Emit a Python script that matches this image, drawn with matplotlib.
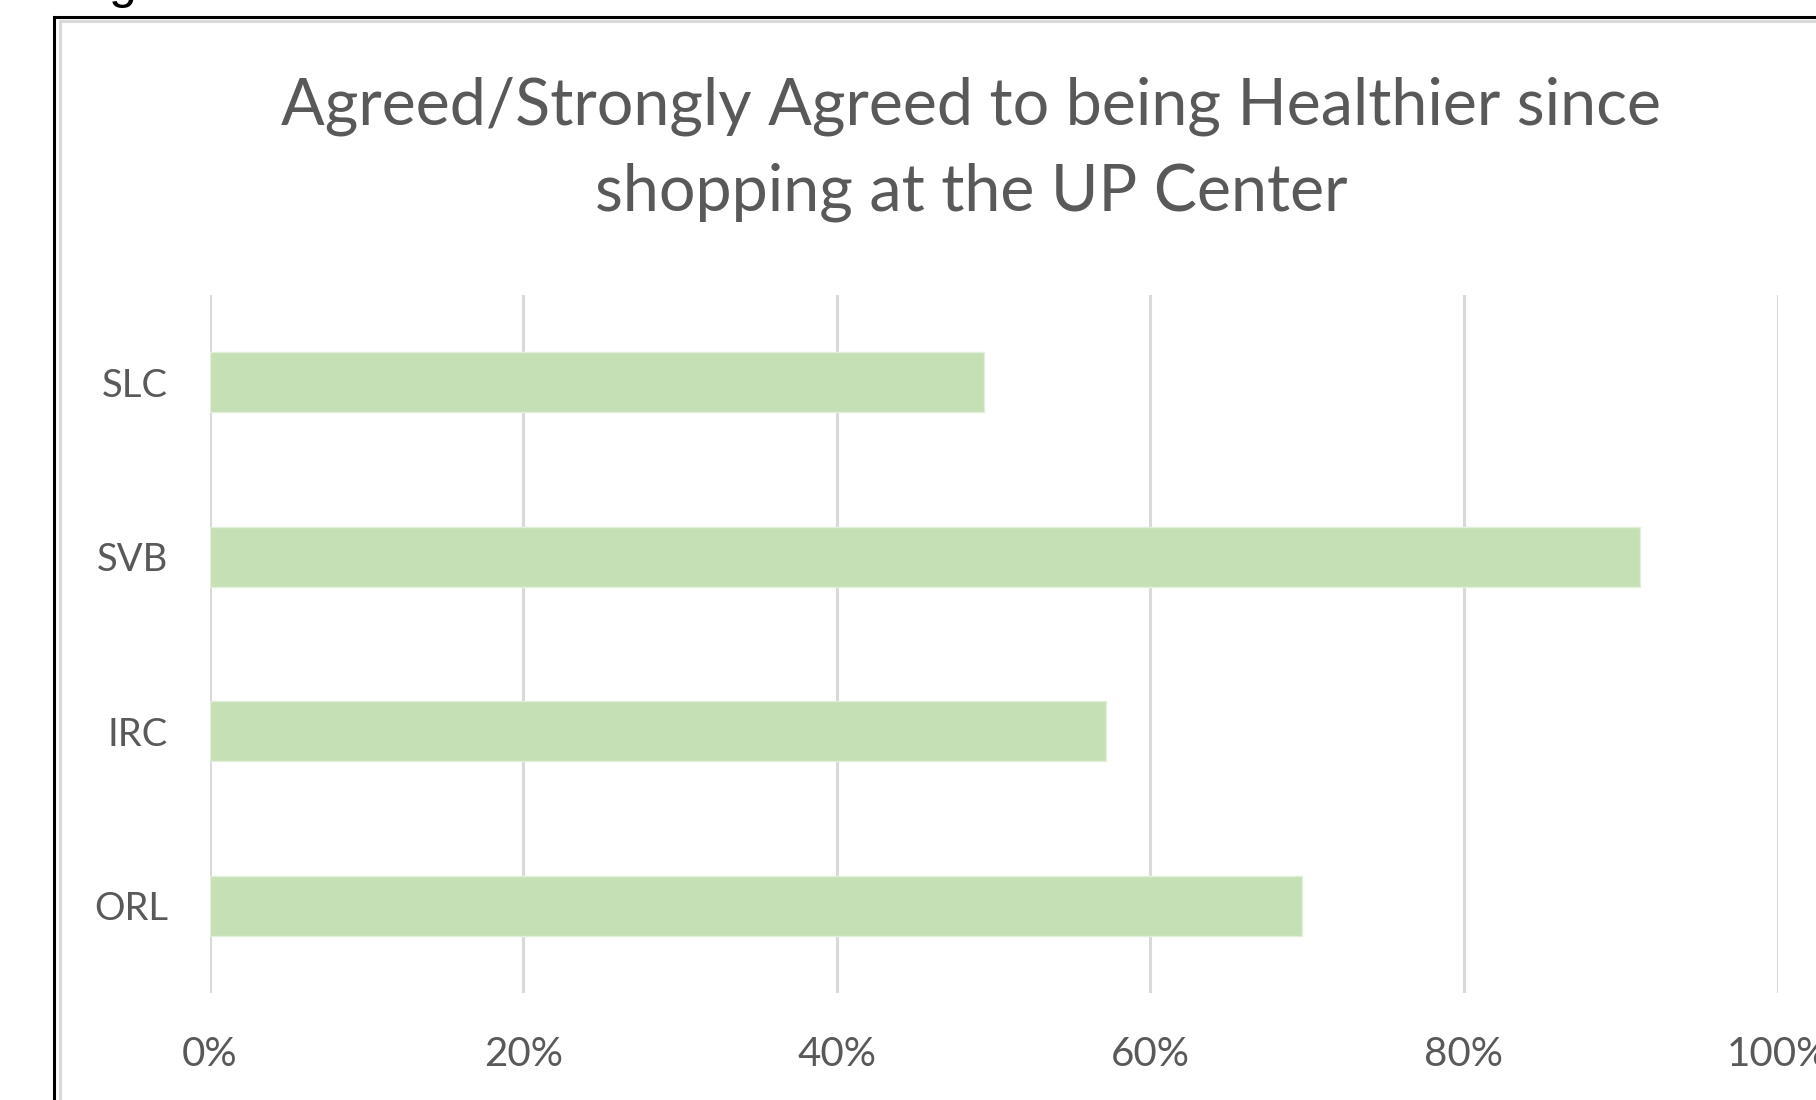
import matplotlib.pyplot as plt
from matplotlib.patches import Rectangle

# data
categories = ['SLC', 'SVB', 'IRC', 'ORL']
values = [0.494, 0.912, 0.572, 0.697]
xticks = [0, 0.2, 0.4, 0.6, 0.8, 1.0]
xtick_labels = ['0%', '20%', '40%', '60%', '80%', '100%']
title_lines = ['Agreed/Strongly Agreed to being Healthier since',
               'shopping at the UP Center']

W, H = 1816, 1100
TEXT = '#595959'
GRID = '#d9d9d9'
BAR = '#c5e0b4'

plt.rcParams['font.family'] = ['Lato', 'DejaVu Sans']

fig = plt.figure(figsize=(W / 100, H / 100), dpi=100)

# image border + chart area border, both run off the right/bottom edge
fig.patches.append(Rectangle((54 / W, -0.1), 1.2, 1 - 17 / H + 0.1,
                             transform=fig.transFigure, fill=False,
                             edgecolor='black', lw=2.2))
fig.patches.append(Rectangle((60 / W, -0.1), 1.2, 1 - 21 / H + 0.1,
                             transform=fig.transFigure, fill=False,
                             edgecolor=GRID, lw=2.2))

# cut-off glyph above the box
fig.text(109 / W, 1.0 + 2 / H, 'g', family='Liberation Sans', fontsize=36,
         color='black', va='baseline', ha='left')

ax = fig.add_axes([209.6 / W, 1 - 993 / H, 1567.9 / W, 698 / H])

ypos = list(range(len(categories)))
ax.barh(ypos, values, height=0.345, color=BAR, edgecolor='#e2efda',
        linewidth=1, zorder=3)

ax.set_xlim(0, 1)
ax.set_ylim(len(categories) - 0.5, -0.5)
ax.set_xticks(xticks)
ax.set_xticklabels(xtick_labels)
ax.set_yticks(ypos)
ax.set_yticklabels(categories)
ax.tick_params(axis='x', length=0, pad=31, labelsize=29, labelcolor=TEXT)
ax.tick_params(axis='y', length=0, pad=30, labelsize=27.5, labelcolor=TEXT)
ax.grid(axis='x', color=GRID, lw=2.2, zorder=0)
ax.set_axisbelow(True)
for s in ax.spines.values():
    s.set_visible(False)

fig.text(971 / W, 1 - 125 / H, title_lines[0], ha='center', va='baseline',
         fontsize=46.5, color=TEXT)
fig.text(971 / W, 1 - 211 / H, title_lines[1], ha='center', va='baseline',
         fontsize=46.5, color=TEXT)

fig.savefig('out.png', dpi=100)
